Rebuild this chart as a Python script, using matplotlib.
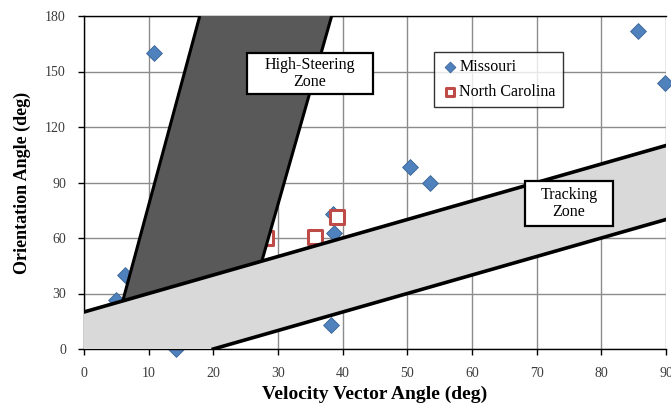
import matplotlib
matplotlib.use("Agg")
import matplotlib.pyplot as plt
from matplotlib.patches import Polygon, Rectangle
import numpy as np

plt.rcParams['font.family'] = ['Liberation Serif', 'DejaVu Serif']

# Observed cases
mo_x = [4.9, 6.3, 10.8, 14.2, 38.2, 38.5, 38.7, 50.4, 53.5, 85.6, 89.8]
mo_y = [26.5, 40, 160, 0, 13, 73, 62.5, 98.5, 90, 172, 144]
nc_x = [28.2, 35.7, 39.1]
nc_y = [60, 60.5, 71.5]

# Tracking zone: orientation within +/- 20 deg of the velocity angle
track_offset = 20
track_x = [0, 90]

# High-steering zone corners (velocity, orientation)
steer_x = [6.0, 17.9, 38.3, 27.5]
steer_y = [26.0, 180, 180, 47.5]

x_ticks = list(range(0, 91, 10))
y_ticks = list(range(0, 181, 30))

fig = plt.figure(figsize=(6.71, 4.04), dpi=100)
ax = fig.add_axes([84 / 671, 1 - 349 / 404, (666 - 84) / 671, (349 - 16) / 404])
ax.set_xlim(0, 90)
ax.set_ylim(0, 180)
ax.set_xticks(x_ticks)
ax.set_yticks(y_ticks)
ax.grid(True, color='#8c8c8c', lw=1.0, zorder=0)
ax.set_axisbelow(True)
for s in ['left', 'bottom', 'top']:
    ax.spines[s].set_color('black')
    ax.spines[s].set_linewidth(1.0)
ax.spines['right'].set_visible(False)
ax.tick_params(direction='out', length=4, width=1, labelsize=10, labelcolor='#3c3c3c', pad=9)

# Points
ax.scatter(mo_x, mo_y, marker='D', s=65, color='#4f81bd', edgecolor='#3a6496',
           linewidth=0.6, zorder=2, clip_on=False, label='Missouri')
ax.scatter(nc_x, nc_y, marker='s', s=95, facecolor='white', edgecolor='#be4b48',
           linewidth=2.2, zorder=3, clip_on=False, label='North Carolina')

# Tracking zone band
tx = np.array(track_x, dtype=float)
up = tx + track_offset
lo_x = np.array([track_offset, track_x[1]], dtype=float)
lo = lo_x - track_offset
band = Polygon([(tx[0], 0), (tx[0], up[0]), (tx[1], up[1]), (lo_x[1], lo[1]), (lo_x[0], lo[0])],
               closed=True, facecolor='#d9d9d9', edgecolor='none', zorder=4)
ax.add_patch(band)

# High-steering zone
steer = Polygon(list(zip(steer_x, steer_y)), closed=True, facecolor='#595959',
                edgecolor='none', zorder=5)
ax.add_patch(steer)
ax.plot(steer_x[:2], steer_y[:2], color='black', lw=2.2, zorder=6, solid_capstyle='butt')
ax.plot(steer_x[2:], steer_y[2:], color='black', lw=2.2, zorder=6, solid_capstyle='butt')

ax.plot(tx, up, color='black', lw=2.6, zorder=7)
ax.plot(lo_x, lo, color='black', lw=2.6, zorder=7)


def zone_label(x0, x1, y0, y1, text):
    ax.add_patch(Rectangle((x0, y0), x1 - x0, y1 - y0, facecolor='white', edgecolor='black',
                           lw=1.6, zorder=8))
    ax.text((x0 + x1) / 2, (y0 + y1) / 2, text, ha='center', va='center',
            fontsize=11.5, linespacing=1.15, zorder=9)


zone_label(25.2, 44.7, 137.8, 160.0, 'High-Steering\nZone')
zone_label(68.2, 81.8, 66.5, 90.8, 'Tracking\nZone')

leg = ax.legend(loc='upper left', bbox_to_anchor=(0.602, 0.892), frameon=True, fancybox=False,
                fontsize=11.5, handletextpad=0.0, borderpad=0.45, labelspacing=0.55,
                handlelength=1.1, borderaxespad=0)
leg.get_frame().set_edgecolor('black')
leg.get_frame().set_linewidth(1.0)
leg.set_zorder(10)
for h in leg.legend_handles:
    h.set_sizes([30])

ax.set_xlabel('Velocity Vector Angle (deg)', fontsize=14, fontweight='bold', labelpad=4)
ax.set_ylabel('Orientation Angle (deg)', fontsize=13, fontweight='bold', labelpad=10)

fig.text(0.56, 1.026, 'Trajectory groups by speed and angle, Missouri and NC study',
         ha='center', va='center', fontsize=16)

fig.savefig('out.png', dpi=100)
